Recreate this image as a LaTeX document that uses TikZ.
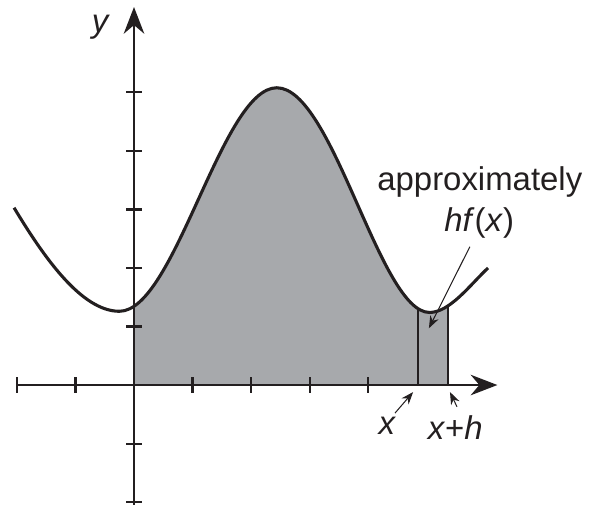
\documentclass[tikz,border=0pt]{standalone}
\usepackage{fontspec}
\setmainfont{Liberation Sans}
\usepackage{xcolor}
\usepackage{tikz}
\usetikzlibrary{arrows.meta}
\definecolor{ink}{HTML}{231F20}
\definecolor{umbra}{HTML}{A7A9AC}

\begin{document}
\begin{tikzpicture}[scale=1.0, >={Stealth[length=6pt,width=4.5pt]}]
  \useasboundingbox (-2.29,-2.05) rectangle (7.81,6.58);

  % Aria de sub curba, pana la x+h
  \begin{scope}
    \clip (-2.1,0) -- (-2.05,3.03)
      .. controls (-1.55,2.2) and (-0.9,1.26) .. (-0.25,1.26)
      .. controls (0.7,1.26) and (1.5,5.08) .. (2.44,5.08)
      .. controls (3.4,5.08) and (4.2,1.24) .. (5.05,1.24)
      .. controls (5.4,1.24) and (5.75,1.72) .. (6.05,2.0)
      -- (6.1,0) -- cycle;
    \fill[umbra] (0,0) rectangle (5.37,6);
    % Fasia de latime h
    \draw[ink, line width=1pt] (4.85,0) -- (4.85,6) (5.37,0) -- (5.37,6);
  \end{scope}

  % Curba
  \draw[ink, line width=1.5pt] (-2.05,3.03)
    .. controls (-1.55,2.2) and (-0.9,1.26) .. (-0.25,1.26)
    .. controls (0.7,1.26) and (1.5,5.08) .. (2.44,5.08)
    .. controls (3.4,5.08) and (4.2,1.24) .. (5.05,1.24)
    .. controls (5.4,1.24) and (5.75,1.72) .. (6.05,2.0);

  % Axe
  \draw[ink, line width=1pt, -{Stealth[length=13pt,width=10pt]}] (-2.0,0) -- (6.21,0);
  \draw[ink, line width=1pt, -{Stealth[length=13pt,width=10pt]}] (0,-2.1) -- (0,6.46);
  \foreach \i in {-2,-1,1,2,3,4}
    \draw[ink, line width=1pt] (\i,-0.13) -- (\i,0.13);
  \foreach \j in {-2,-1,1,2,3,4,5}
    \draw[ink, line width=1pt] (-0.13,\j) -- (0.13,\j);

  % Etichete
  \node[ink, font=\fontsize{16}{18}\selectfont\itshape] (ey) at (-0.58,6.12) {y};
  \node[ink, font=\fontsize{16}{18}\selectfont\itshape] (ex) at (4.32,-0.70) {x};
  \node[ink, font=\fontsize{16}{18}\selectfont] (exh) at (5.49,-0.72) {\textit{x}+\textit{h}};
  \node[ink, font=\fontsize{16}{18}\selectfont] (aprox) at (5.91,3.47) {approximately};
  \node[ink, font=\fontsize{16}{18}\selectfont] (hfx) at (5.90,2.77) {\textit{hf}(\textit{x})};

  % Sageti
  \coordinate (px) at (4.77,-0.12);
  \coordinate (pxh) at (5.40,-0.12);
  \coordinate (pfasie) at (5.04,0.97);
  \draw[ink, line width=0.5pt, ->] (4.46,-0.48) -- (px);
  \draw[ink, line width=0.5pt, ->] (exh.north) ++(0.03,0.02) -- (pxh);
  \draw[ink, line width=0.5pt, ->] (hfx.south) ++(-0.16,-0.02) -- (pfasie);
\end{tikzpicture}
\end{document}
